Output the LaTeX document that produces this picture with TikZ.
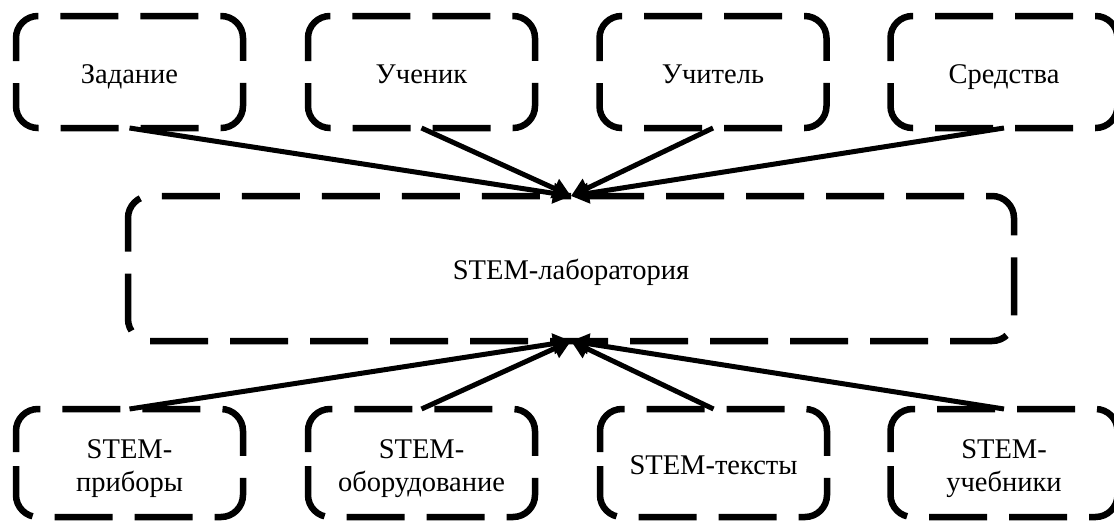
\documentclass[tikz,border=0pt]{standalone}
\usepackage{fontspec}
\setmainfont{Liberation Serif}
\usetikzlibrary{arrows.meta}
\tikzset{
  holder/.style={inner sep=0pt, outer sep=0pt, align=center, font=\fontsize{28.5}{32.5}\selectfont},
  oneline/.style={text height=28pt, text depth=6pt},
  topbox/.style={holder, oneline, minimum width=227pt, minimum height=112pt},
  botbox/.style={holder, minimum width=227pt, minimum height=108pt},
  midbox/.style={holder, oneline, minimum width=886pt, minimum height=145pt},
  frameline/.style={line width=6.5pt, rounded corners=22pt, dash pattern=on 58pt off 22pt},
  arr/.style={line width=5pt, -{Triangle[length=18pt,width=20pt]}}
}
\newcommand\dashedframe[2]{%
  \draw[frameline, dash phase=#2] (#1.west) -- (#1.north west) -- (#1.north east) -- (#1.south east) -- (#1.south west) -- (#1.west);}
\newcommand\tallstrut{\rule{0pt}{30.5pt}}
\begin{document}
\begin{tikzpicture}[x=1pt,y=-1pt]
\useasboundingbox (0,0) rectangle (1114,520);
\node[topbox] (t1) at (129.5,72) {Задание};
\node[topbox] (t2) at (421.5,72) {Ученик};
\node[topbox] (t3) at (713,72) {Учитель};
\node[topbox] (t4) at (1004,72) {Средства};
\node[midbox] (mid) at (571,268.5) {STEM-лаборатория};
\node[botbox] (b1) at (129.5,463) {\tallstrut STEM-\\приборы};
\node[botbox] (b2) at (421.5,463) {\tallstrut STEM-\\оборудование};
\node[botbox, oneline] (b3) at (713.5,463) {STEM-тексты};
\node[botbox] (b4) at (1004,463) {\tallstrut STEM-\\учебники};
\foreach \n in {t1,t2,t3,t4,b1,b2,b3,b4} {\dashedframe{\n}{69}}
\draw[frameline, dash phase=65] (mid.north) -- (mid.north east) -- (mid.south east) -- (mid.south west) -- (mid.north west) -- (mid.north);
\foreach \n in {t1,t2,t3,t4} {\draw[arr] (\n.south) -- (mid.north);}
\foreach \n in {b1,b2,b3,b4} {\draw[arr] (\n.north) -- (mid.south);}
\end{tikzpicture}
\end{document}
